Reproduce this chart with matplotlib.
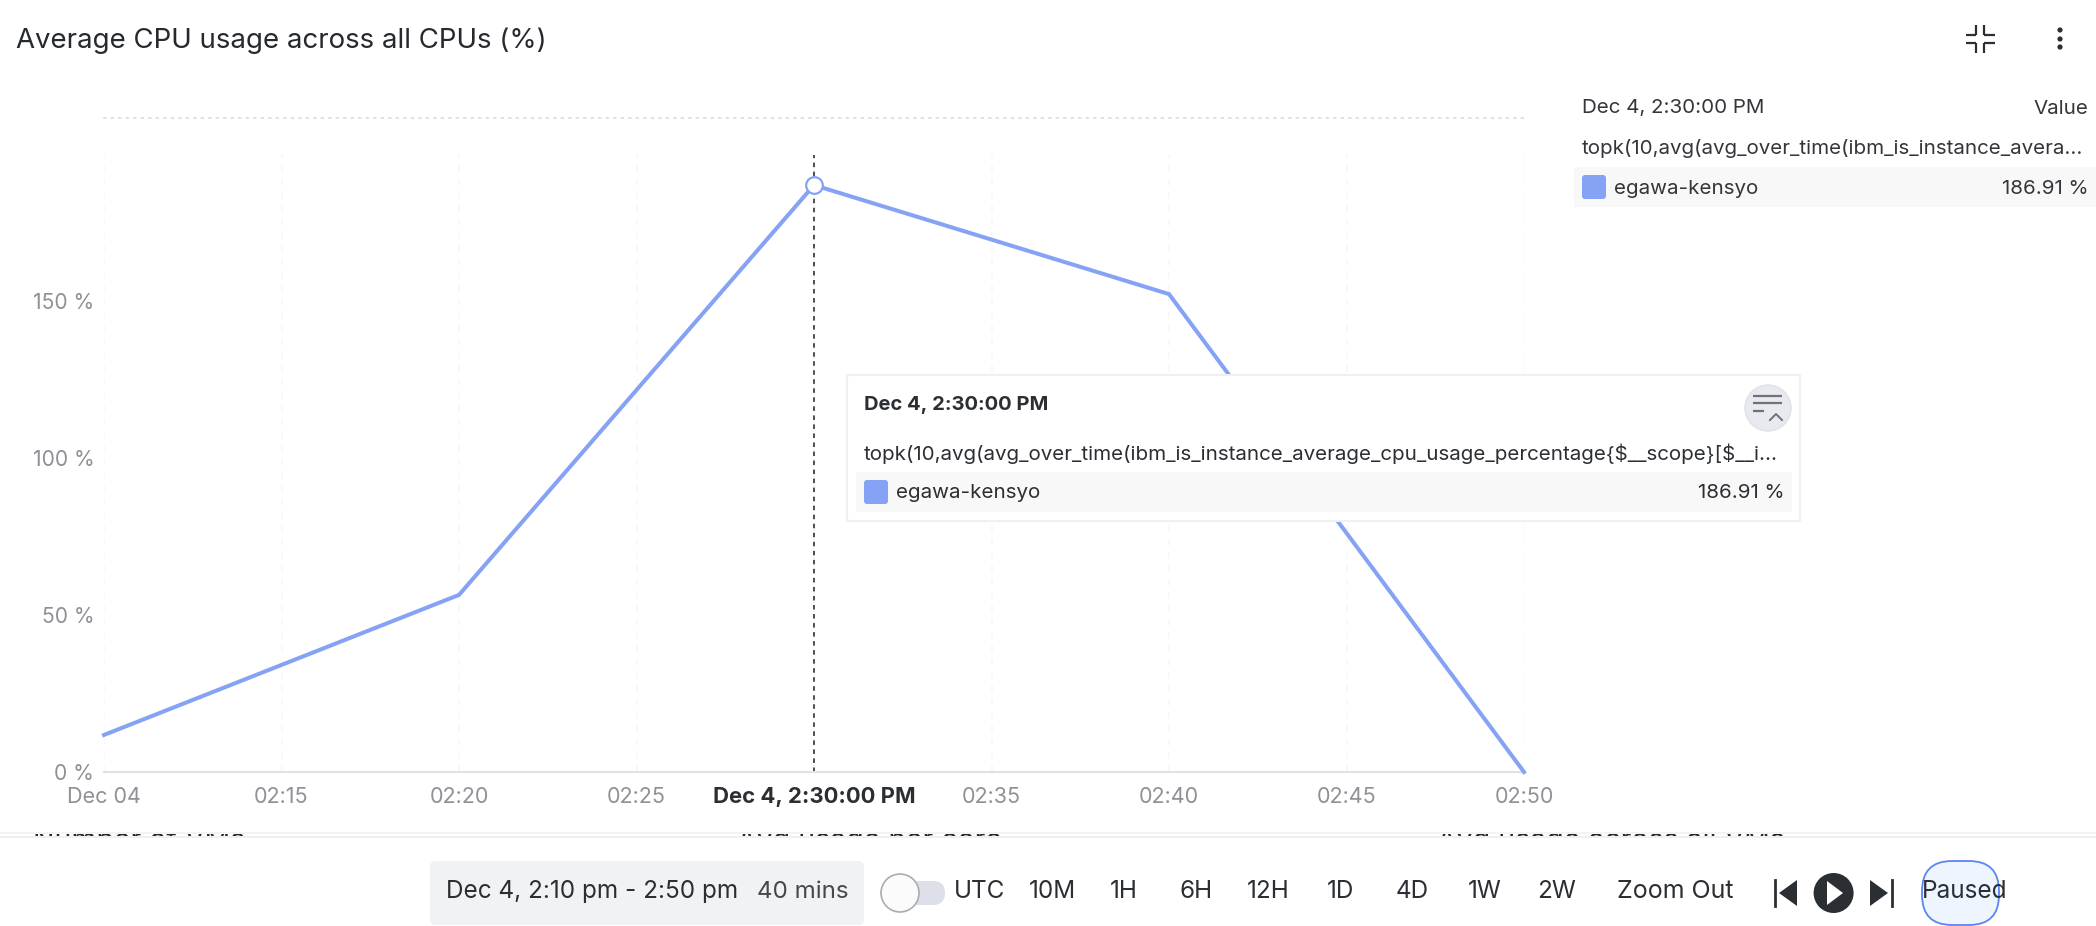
import matplotlib
matplotlib.use("Agg")
import matplotlib.pyplot as plt
from matplotlib.patches import Rectangle, FancyBboxPatch, Circle, Polygon

plt.rcParams['font.family'] = ['Inter', 'DejaVu Sans']

# data
minutes = [10, 20, 30, 40, 50]
cpu_values = [11.8, 56.4, 186.91, 152.2, 0]
x_ticks = [10, 15, 20, 25, 30, 35, 40, 45, 50]
x_labels = ['Dec 04', '02:15', '02:20', '02:25', 'Dec 4, 2:30:00 PM', '02:35', '02:40', '02:45', '02:50']
y_ticks = [0, 50, 100, 150]
y_labels = ['0 %', '50 %', '100 %', '150 %']
title = 'Average CPU usage across all CPUs (%)'
hover_time = 'Dec 4, 2:30:00 PM'
hover_minute = 30
hover_value = 186.91
series_name = 'egawa-kensyo'
query_long = 'topk(10,avg(avg_over_time(ibm_is_instance_average_cpu_usage_percentage{$__scope}[$__i...'
query_short = 'topk(10,avg(avg_over_time(ibm_is_instance_avera...'
range_buttons = ['10M', '1H', '6H', '12H', '1D', '4D', '1W', '2W']
below_fold = ['Number of VMs', 'Avg usage per core', 'Avg usage across all VMs']

W, H = 2096, 926
BLUE = '#85a2f5'
DARK = '#2b2f33'
GREY = '#8e9196'

fig = plt.figure(figsize=(W / 100, H / 100), dpi=100, facecolor='white')

# chart axes: x 104..1524, y 118..772 in pixels
L, R, T, B = 104, 1524, 118, 772
ax = fig.add_axes([L / W, 1 - B / H, (R - L) / W, (B - T) / H])
ax.set_xlim(10, 50)
ax.set_ylim(0, (B - T) / 3.14)
ax.patch.set_visible(False)
for s in ['left', 'right']:
    ax.spines[s].set_visible(False)
ax.spines['top'].set_linestyle((0, (1, 3.5)))
ax.spines['top'].set_color('#d9dbe6')
ax.spines['top'].set_linewidth(1.2)
ax.spines['bottom'].set_color('#dfe2e8')
ax.spines['bottom'].set_linewidth(1.5)
ax.set_xticks(x_ticks)
ax.set_xticklabels(x_labels, fontsize=15.5, color=GREY)
ax.set_yticks(y_ticks)
ax.set_yticklabels(y_labels, fontsize=15.2, color=GREY)
ax.tick_params(axis='both', length=0)
ax.tick_params(axis='x', pad=10.5)
ax.tick_params(axis='y', pad=7)
hover_label = ax.get_xticklabels()[x_ticks.index(hover_minute)]
hover_label.set_color(DARK)
hover_label.set_fontweight('bold')
hover_label.set_fontsize(15.9)
top_grid = (B - 155) / 3.14
ax.vlines(x_ticks, 0, top_grid, colors='#f7f7f8', linewidth=1.2, linestyles=(0, (4, 4)), zorder=1)
ax.plot(minutes, cpu_values, color=BLUE, lw=2.9, solid_joinstyle='miter', zorder=3, clip_on=False)
ax.vlines([hover_minute], 0, top_grid, colors='#3c3f44', linewidth=1.3, linestyles=(0, (2.5, 2.5)), zorder=2)
ax.plot([hover_minute], [hover_value], 'o', ms=12, mfc='white', mec=BLUE, mew=1.6, zorder=4)

# interface overlay in pixel coordinates
ui = fig.add_axes([0, 0, 1, 1], zorder=5)
ui.set_xlim(0, W)
ui.set_ylim(H, 0)
ui.axis('off')
ui.patch.set_visible(False)


def txt(x, y, s, size=14.8, color=DARK, ha='left', weight='normal', **kw):
    return ui.text(x, y + 1.5, s, fontsize=size, color=color, ha=ha, va='center', fontweight=weight,
                   parse_math=False, **kw)


def box(x0, y0, x1, y1, fc, ec='none', lw=0, r=0, z=2):
    if r:
        p = FancyBboxPatch((x0 + r, y0 + r), x1 - x0 - 2 * r, y1 - y0 - 2 * r,
                           boxstyle=f'round,pad={r},rounding_size={r}', fc=fc, ec=ec, lw=lw, zorder=z)
    else:
        p = Rectangle((x0, y0), x1 - x0, y1 - y0, fc=fc, ec=ec, lw=lw, zorder=z)
    ui.add_patch(p)
    return p


# title and top right icons
txt(16, 39, title, size=19.9, color='#26292d')
for (xa, xb, ya, yb) in [(1966, 1976, 35, 35), (1984, 1995, 35, 35), (1966, 1976, 43, 43), (1984, 1995, 43, 43),
                         (1976, 1976, 25, 35), (1984, 1984, 25, 35), (1976, 1976, 43, 53), (1984, 1984, 43, 53)]:
    ui.plot([xa, xb], [ya, yb], color=DARK, lw=1.6, solid_capstyle='butt')
for y in (30, 39, 47):
    ui.add_patch(Circle((2060, y), 2.6, fc=DARK, ec='none'))

# right legend
txt(1582, 107, hover_time, color='#33363a')
txt(2088, 107, 'Value', color='#33363a', ha='right')
txt(1582, 147, query_short, color='#33363a')
box(1574, 167, 2096, 207, '#f8f8f8')
box(1582, 175, 1606, 199, BLUE, r=3, z=3)
txt(1614, 187, series_name, color='#33363a', zorder=4)
txt(2088, 187, f'{hover_value} %', color='#33363a', ha='right', zorder=4)

# tooltip
box(847, 375, 1800, 521, 'white', ec='#f0f0f0', lw=1.5, z=2)
txt(864, 404, hover_time, size=14.5, weight='bold', zorder=4)
txt(864, 452, query_long, zorder=4)
box(856, 472, 1792, 512, '#f8f8f8', z=3)
box(864, 480, 888, 504, BLUE, r=3, z=4)
txt(896, 492, series_name, zorder=5)
txt(1784, 492, f'{hover_value} %', ha='right', zorder=5)
ui.add_patch(Circle((1768, 408), 23, fc='#e8eaef', ec='#dfe2e8', lw=1, zorder=3))
for (xa, xb, y) in [(1753, 1782, 396), (1753, 1782, 403), (1753, 1764, 411)]:
    ui.plot([xa, xb], [y, y], color='#6f7378', lw=1.6, zorder=4, solid_capstyle='butt')
ui.plot([1770, 1776, 1782], [420, 414, 420], color='#6f7378', lw=1.4, zorder=4)

# strip with next panels' titles peeking through
clip = Rectangle((0, 833), W, 4, transform=ui.transData)
for x, s in zip([33, 737, 1437], below_fold):
    t = txt(x, 840, s, size=20.5, color='#26292d')
    t.set_clip_path(clip)
    t.set_clip_on(True)
box(0, 832, W, 833.5, '#f3f3f3', z=3)
box(0, 836, W, 837.5, '#f0f0f0', z=3)

# bottom toolbar
TB = 890
box(430, 861, 864, 925, '#f1f2f4', r=6)
txt(446, TB, 'Dec 4, 2:10 pm - 2:50 pm', size=17.5, zorder=4)
txt(757, TB, '40 mins', size=17.4, color='#45484d', zorder=4)
box(885, 881, 945, 905, '#dde0e8', r=12)
ui.add_patch(Circle((900, 893), 19, fc='#fbfbfc', ec='#a9acb2', lw=1.2, zorder=3))
txt(954, TB, 'UTC', size=17.5)
for cx, s in zip([1052, 1124, 1196, 1268.5, 1340.6, 1412.6, 1485, 1557], range_buttons):
    txt(cx, TB, s, size=17.5, ha='center')
txt(1675, TB, 'Zoom Out', size=18, ha='center')
ui.plot([1775, 1775], [880, 906], color=DARK, lw=2)
ui.add_patch(Polygon([[1797, 880], [1797, 906], [1779, 893]], fc=DARK, ec='none'))
ui.add_patch(Circle((1833.6, 893), 20, fc=DARK, ec='none'))
ui.add_patch(Polygon([[1827, 881], [1827, 905], [1843, 893]], fc='white', ec='none', zorder=4))
ui.plot([1892, 1892], [880, 906], color=DARK, lw=2)
ui.add_patch(Polygon([[1870, 880], [1870, 906], [1888, 893]], fc=DARK, ec='none'))
box(1922, 861, 1999, 925, '#eff5fe', ec='#5b86f0', lw=1.3, r=30)
txt(1965, TB, 'Paused', size=17.5, ha='center', zorder=4)

fig.savefig('out.png', dpi=100)
